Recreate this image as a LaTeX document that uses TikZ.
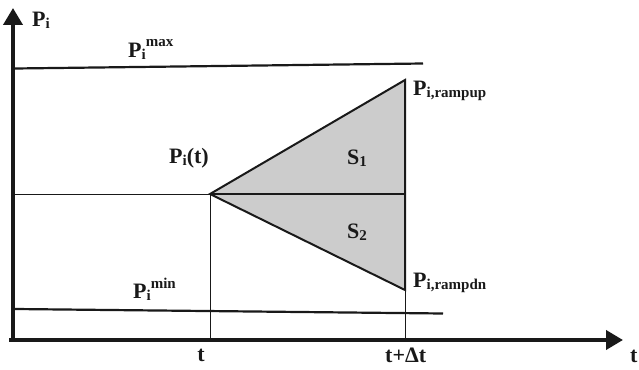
\documentclass[tikz,border=0pt]{standalone}
\usepackage{fontspec}
\setmainfont{Liberation Serif}
\usetikzlibrary{arrows.meta}
\definecolor{cInk} {RGB}{25,25,25}
\definecolor{cArea}{RGB}{204,204,204}
\def\xT{210}
\def\xD{405}
\def\yP{194}
\def\yAx{340}
\newcommand{\subtx}[1]{\raisebox{-2pt}{\fontsize{15}{15}\selectfont #1}}
\newcommand{\suptx}[1]{\raisebox{10pt}{\fontsize{15}{15}\selectfont #1}}
\tikzset{
  axis/.style={cInk,line width=3.8pt,-{Triangle[length=17pt,width=19pt]}},
  limit/.style={cInk,line width=2.2pt},
  guide/.style={cInk,line width=1pt},
  edge/.style={cInk,line width=2pt,line join=miter},
  lbl/.style={anchor=base west,inner sep=0pt,text=cInk,
    font=\bfseries\fontsize{22}{26}\selectfont},
}

\begin{document}
\begin{tikzpicture}[x=1pt,y=-1pt]
\useasboundingbox (0,0) rectangle (639,369);

% =================== PONTOS ===================
\coordinate (org)    at (13,\yAx);
\coordinate (yTip)   at (13,8);
\coordinate (xL)     at (9,\yAx);
\coordinate (xTip)   at (623,\yAx);
\coordinate (maxL)   at (15,68.5);
\coordinate (maxR)   at (423,63.5);
\coordinate (minL)   at (15,309);
\coordinate (minR)   at (443,313.5);
\coordinate (ptL)    at (15,\yP);
\coordinate (apex)   at (\xT,\yP);
\coordinate (up)     at (\xD,80);
\coordinate (dn)     at (\xD,290);
\coordinate (mid)    at (\xD,\yP);
\coordinate (tFoot)  at (\xT,\yAx);
\coordinate (dtFoot) at (\xD,\yAx);

% area cinza
\fill[cArea] (apex) -- (up) -- (dn) -- cycle;

% linhas auxiliares
\draw[guide] (ptL) -- (apex);
\draw[guide] (apex) -- (tFoot);
\draw[guide] (dn) -- (dtFoot);

% limites
\draw[limit] (maxL) -- (maxR);
\draw[limit] (minL) -- (minR);

% triangulo
\draw[edge] (apex) -- (up) -- (dn) -- cycle;
\draw[edge] (apex) -- (mid);

% =================== EIXOS ===================
\draw[axis] (org) -- (yTip);
\draw[axis] (xL) -- (xTip);

% =================== ROTULOS ===================
\node[lbl] (pAx)  at (32,27)   {P\subtx{i}};
\node[lbl] (pMax) at (128,57)  {P\subtx{i}\suptx{max}};
\node[lbl] (pMin) at (133,298) {P\subtx{i}\suptx{min}};
\node[lbl] (pT)   at (169,163) {P\subtx{i}(t)};
\node[lbl] (sOne) at (347,164) {S\subtx{1}};
\node[lbl] (sTwo) at (347,238) {S\subtx{2}};
\node[lbl] (pUp)  at (413,95)  {P\subtx{i,rampup}};
\node[lbl] (pDn)  at (413,287) {P\subtx{i,rampdn}};
\node[lbl,anchor=base] (tA) at (201,361) {t};
\node[lbl] (tB)   at (385,362) {t+Δt};
\node[lbl] (tX)   at (630,362) {t};

\end{tikzpicture}
\end{document}
